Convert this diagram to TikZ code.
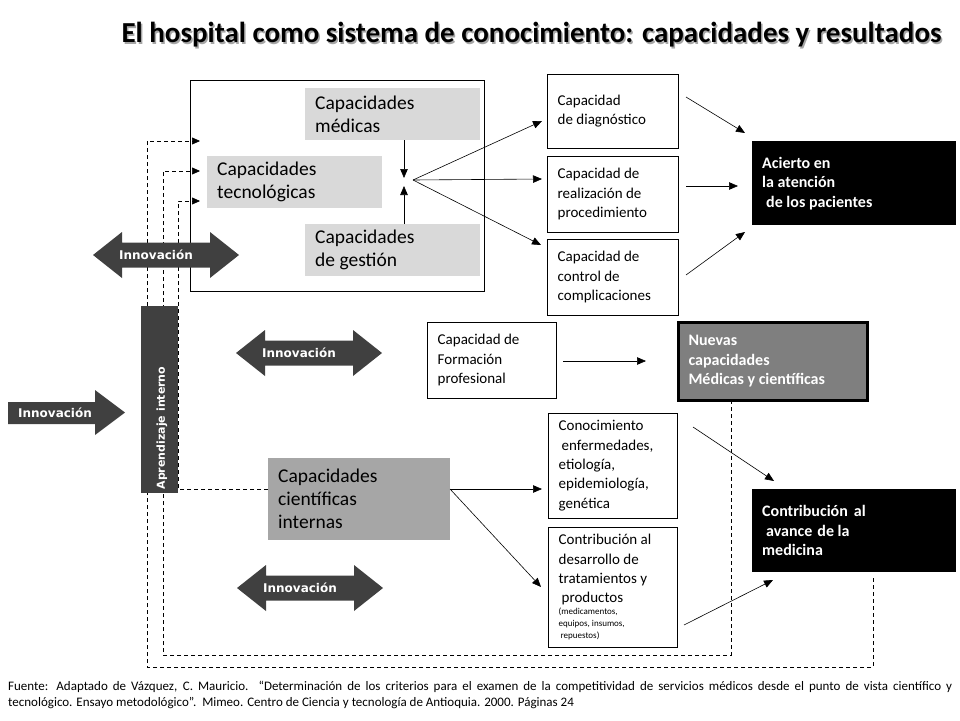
\documentclass[tikz,border=0pt]{standalone}
\usepackage{fontspec}
\setmainfont{Carlito}
\newfontfamily\labelfont{DejaVu Sans}
\usetikzlibrary{arrows.meta}
\definecolor{capgray}{HTML}{D9D9D9}
\definecolor{ciengray}{HTML}{A6A6A6}
\definecolor{nuevgray}{HTML}{7F7F7F}
\definecolor{innodark}{HTML}{404040}
\tikzset{
  titulo/.style={font=\bfseries\fontsize{29}{33}\selectfont},
  capbox/.style={fill=#1, anchor=north west, inner xsep=10pt, inner ysep=0pt,
    align=flush left, font=\fontsize{19.5}{23}\selectfont},
  smallbox/.style={draw, thin, anchor=north west, inner xsep=10.5pt, inner ysep=0pt,
    align=flush left, font=\fontsize{15}{19.3}\selectfont},
  resbox/.style={fill=#1, text=white, anchor=north west, inner xsep=10pt, inner ysep=0pt,
    align=flush left, font=\bfseries\fontsize{16}{19.5}\selectfont},
  innolabel/.style={text=white, inner sep=0pt, font=\labelfont\bfseries\fontsize{12}{14}\selectfont},
  flecha/.style={semithick, -{Triangle[length=9pt,width=7.5pt]}},
  retorno/.style={semithick, dash pattern=on 4pt off 3pt, -{Triangle[length=8pt,width=7pt]}},
}
\begin{document}
\begin{tikzpicture}[x=1pt,y=-1pt]
 \useasboundingbox (0,0) rectangle (960,720);
 % title
 \node[titulo, text=black!35] at (533,36.5) {El hospital como sistema de conocimiento: capacidades y resultados};
 \node[titulo] (title) at (531.5,35) {El hospital como sistema de conocimiento: capacidades y resultados};

 % capacities of the hospital
 \node[draw, thin, anchor=north west, minimum width=294pt, minimum height=211pt, inner sep=0pt] (hosp) at (190,80) {};
 \node[capbox=capgray, text width=155pt, minimum height=52pt] (med) at (305,88) {Capacidades\\médicas};
 \node[capbox=capgray, text width=155pt, minimum height=52pt] (tec) at (207,156) {Capacidades\\tecnológicas};
 \node[capbox=capgray, text width=155pt, minimum height=52pt] (ges) at (305,224) {Capacidades\\de gestión};
 \node[capbox=ciengray, text width=162pt, minimum height=82pt] (cien) at (268,458) {Capacidades\\científicas\\internas};

 % intermediate capacities
 \node[smallbox, text width=110pt, minimum height=74pt] (diag) at (547,74) {Capacidad\\de diagnóstico};
 \node[smallbox, text width=110pt, minimum height=76pt] (real) at (547,156) {Capacidad de\\realización de\\procedimiento};
 \node[smallbox, text width=110pt, minimum height=76pt] (ctrl) at (547,239) {Capacidad de\\control de\\complicaciones};
 \node[smallbox, text width=108pt, minimum height=76pt] (form) at (427,322) {Capacidad de\\Formación\\profesional};
 \node[smallbox, text width=108pt, minimum height=105pt] (cono) at (548,413)
   {Conocimiento\\\hspace{3pt}enfermedades,\\etiología,\\epidemiología,\\genética};
 \node[smallbox, text width=108pt, minimum height=120pt] (desa) at (548,527)
   {Contribución al\\desarrollo de\\tratamientos y\\\hspace{3pt}productos\par
    {\fontsize{9}{12}\selectfont (medicamentos,\\equipos, insumos,\\\hspace{2pt}repuestos)\par}};

 % results
 \node[resbox=black, text width=184pt, minimum height=84pt] (acie) at (752,141)
   {Acierto en\\la atención\\\hspace{4pt}de los pacientes};
 \node[resbox=nuevgray, draw=black, line width=3pt, text width=169pt, minimum height=78pt] (nuev) at (677,321)
   {Nuevas\\capacidades\\Médicas y científicas};
 \node[resbox=black, text width=184pt, minimum height=83pt] (cont) at (752,489)
   {Contribución\hspace{6pt}al\\\hspace{4pt}avance\hspace{5pt}de la\\medicina};

 % connector ends
 \path (404,178) coordinate (medtip)
       (404,186) coordinate (gestip)
       (413,180) coordinate (jun)
       (542,121) coordinate (pdiag)
       (542,179) coordinate (preal)
       (541,245) coordinate (pctrl)
       (686,97)  coordinate (sdiag)   (745,133) coordinate (eacie1)
       (686,186) coordinate (sreal)   (738,186) coordinate (eacie2)
       (686,275) coordinate (sctrl)   (745,232) coordinate (eacie3)
       (563,361) coordinate (sform)   (646,361) coordinate (enuev)
       (450,489) coordinate (scien)
       (542,489) coordinate (pcono)
       (541,587) coordinate (pdesa)
       (693,427) coordinate (scono)   (774,481) coordinate (econt1)
       (684,625) coordinate (sdesa)   (773,580) coordinate (econt2)
       (873,578) coordinate (rcont)
       (731,400) coordinate (rnuev)
       (200,141) coordinate (ina)
       (200,171) coordinate (inb)
       (200,201) coordinate (inc);

 \draw[flecha] (med.south -| medtip) -- (medtip);
 \draw[flecha] (ges.north -| gestip) -- (gestip);
 \draw[flecha] (jun) -- (pdiag);
 \draw[flecha] (jun) -- (preal);
 \draw[flecha] (jun) -- (pctrl);
 \draw[flecha] (sdiag) -- (eacie1);
 \draw[flecha] (sreal) -- (eacie2);
 \draw[flecha] (sctrl) -- (eacie3);
 \draw[flecha] (sform) -- (enuev);
 \draw[flecha] (scien) -- (pcono);
 \draw[flecha] (scien) -- (pdesa);
 \draw[flecha] (scono) -- (econt1);
 \draw[flecha] (sdesa) -- (econt2);

 % feedback loops
 \draw[retorno] (rcont) |- (147,667) |- (ina);
 \draw[retorno] (rnuev) |- (163,655) |- (inb);
 \draw[retorno] (cien.west |- scien) -| (178,201) -- (inc);

 % internal learning bar
 \node[fill=innodark, anchor=north west, minimum width=37pt, minimum height=187pt, inner sep=0pt] (barra) at (141,306) {};
 \node[innolabel, rotate=90, font=\labelfont\bfseries\fontsize{11}{13}\selectfont] (apre) at (162,428) {Aprendizaje interno};

 % innovation arrows
 \foreach \nom/\xa/\ya in {inna/93/255, innb/236/353, innc/237/588} {
   \fill[innodark] (\xa,\ya) -- ++(29,-23) -- ++(0,10.5) -- ++(88,0) -- ++(0,-10.5) -- ++(29,23)
     -- ++(-29,23) -- ++(0,-10.5) -- ++(-88,0) -- ++(0,10.5) -- cycle;
   \node[innolabel] (\nom) at (\xa+63,\ya) {Innovación};
 }
 \fill[innodark] (8,402) -- (95,402) -- (95,390) -- (125,412.5) -- (95,435) -- (95,424) -- (8,424) -- cycle;
 \node[innolabel] (innext) at (55,413) {Innovación};

 % source
 \node[anchor=north west, inner sep=0pt, text width=944pt, align=justify, font=\fontsize{13}{16}\selectfont] (fuente) at (8,681)
   {Fuente: Adaptado de Vázquez, C. Mauricio. “Determinación de los criterios para el examen de la competitividad de servicios médicos desde el punto de vista científico y\linebreak
    tecnológico. Ensayo metodológico”.\ \ Mimeo. Centro de Ciencia y tecnología de Antioquia. 2000. Páginas 24};
\end{tikzpicture}
\end{document}
